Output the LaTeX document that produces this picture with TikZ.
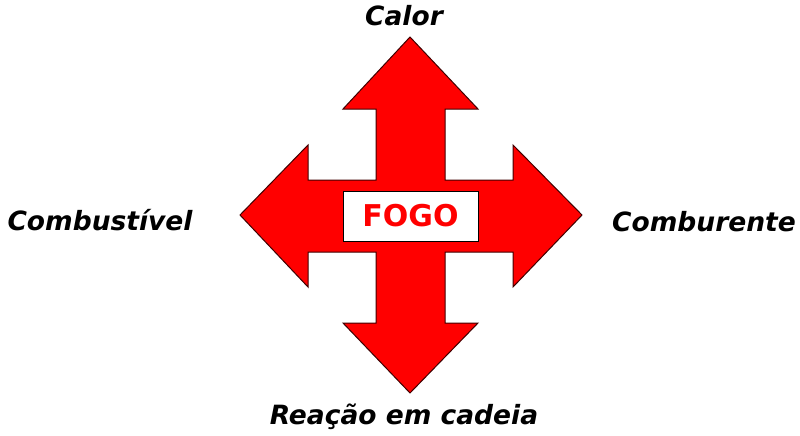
\documentclass[tikz,border=0pt]{standalone}
\usepackage{fontspec}
\setmainfont{DejaVu Sans}
\usepackage{tikz}

\begin{document}
\begin{tikzpicture}[x=1pt, y=-1pt,
  rotulo/.style={font=\fontsize{26.5}{26.5}\selectfont\bfseries\itshape},
  fogo/.style={draw=black, fill=white, minimum width=135pt, minimum height=50pt, inner sep=0pt,
    text=red, font=\fontsize{30}{30}\selectfont\bfseries}]
\useasboundingbox (0,0) rectangle (800,436);
\draw[line width=1pt, draw=black!75!red, fill=red] (410,37) -- (478,109) -- (445,109) -- (445,180) -- (513,180) -- (513,145)
  -- (582,215) -- (513,287) -- (513,252) -- (445,252) -- (445,323) -- (478,323) -- (410,393) -- (343,323)
  -- (376,323) -- (376,252) -- (308,252) -- (308,287) -- (240,215) -- (308,145) -- (308,180) -- (376,180)
  -- (376,109) -- (343,109) -- cycle;

\node[fogo] (centro) at (410.5,216) {FOGO};

\node[rotulo] (calor) at (404,16) {Calor};
\node[rotulo] (combustivel) at (100,220) {Combustível};
\node[rotulo] (comburente) at (704,222) {Comburente};
\node[rotulo] (reacao) at (404,417) {Reação em cadeia};
\end{tikzpicture}
\end{document}
